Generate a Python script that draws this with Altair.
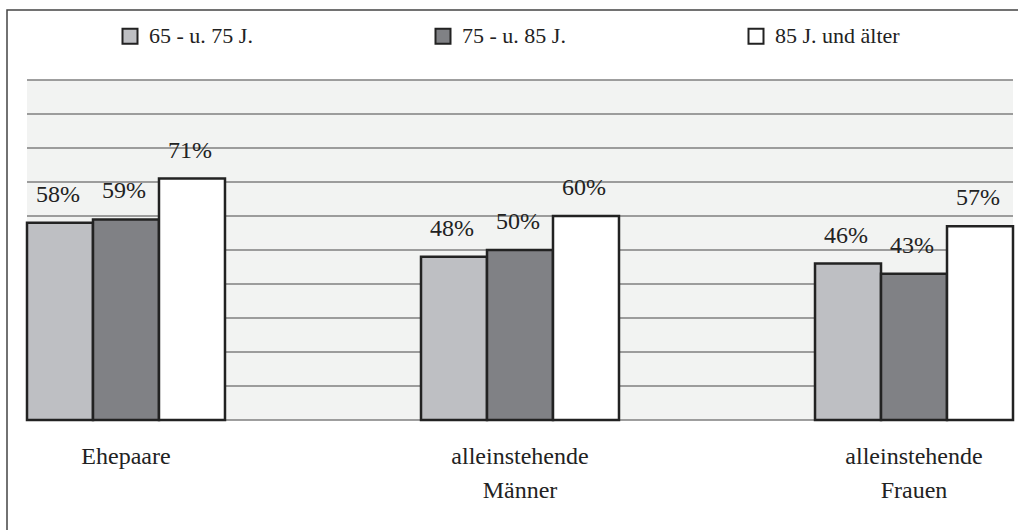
import altair as alt
import pandas as pd

# Haushaltsformen und Altersgruppen
categories = ["Ehepaare", "alleinstehende Männer", "alleinstehende Frauen"]
age_groups = ["65 - u. 75 J.", "75 - u. 85 J.", "85 J. und älter"]
share_65_75 = [58, 48, 46]
share_75_85 = [59, 50, 43]
share_85_plus = [71, 60, 57]
grid_values = [0, 10, 20, 30, 40, 50, 60, 70, 80, 90, 100]

series = [share_65_75, share_75_85, share_85_plus]
rows = []
for group, values in zip(age_groups, series):
    for cat, val in zip(categories, values):
        rows.append({"Kategorie": cat, "Alter": group, "Anteil": val,
                     "Etikett": f"{val}%"})
df = pd.DataFrame(rows)
grid_df = pd.DataFrame({"Anteil": grid_values})

FONT = "Liberation Serif"
TEXT = "#222222"

y_scale = alt.Scale(domain=[0, 100], nice=False, zero=True)

x_enc = alt.X(
    "Kategorie:N",
    sort=categories,
    scale=alt.Scale(paddingInner=0.4975, paddingOuter=0),
    axis=alt.Axis(
        title=None,
        labelAngle=0,
        ticks=False,
        domain=False,
        grid=False,
        labelFont=FONT,
        labelFontSize=24,
        labelColor=TEXT,
        labelPadding=24,
        labelLineHeight=34,
        labelExpr="split(datum.label, ' ')",
    ),
)
xoff_enc = alt.XOffset(
    "Alter:N", sort=age_groups, scale=alt.Scale(paddingInner=0, paddingOuter=0)
)
y_enc = alt.Y("Anteil:Q", scale=y_scale, axis=None)

# horizontale Hilfslinien alle 10 %
grid = alt.Chart(grid_df).mark_rule(color="#7f7f7f", strokeWidth=1.4).encode(
    y=alt.Y("Anteil:Q", scale=y_scale, axis=None)
)

base = alt.Chart(df)

bars = base.mark_bar(stroke=TEXT, strokeWidth=2.5).encode(
    x=x_enc,
    xOffset=xoff_enc,
    y=y_enc,
    color=alt.Color(
        "Alter:N",
        sort=age_groups,
        scale=alt.Scale(domain=age_groups, range=["#bebfc3", "#808185", "#ffffff"]),
        legend=alt.Legend(
            title=None,
            orient="none",
            direction="horizontal",
            columns=3,
            gridAlign="all",
            legendX=92,
            legendY=-55,
            columnPadding=157,
            symbolType="square",
            symbolSize=225,
            symbolStrokeColor=TEXT,
            symbolStrokeWidth=2,
            symbolOffset=0,
            labelOffset=8,
            labelFont=FONT,
            labelFontSize=22,
            labelColor=TEXT,
            labelLimit=400,
            padding=0,
        ),
    ),
)

labels = base.mark_text(
    font=FONT, fontSize=24, color=TEXT, baseline="alphabetic", align="center", dy=-21, dx=-2
).encode(
    x=x_enc,
    xOffset=xoff_enc,
    y=y_enc,
    text=alt.Text("Etikett:N"),
)

# Rahmen um die gesamte Grafik
frame = base.mark_rect(fill="transparent", stroke="#444444", strokeWidth=1.5).encode(
    x=alt.value(-20), x2=alt.value(1020), y=alt.value(-70), y2=alt.value(500)
).transform_filter("datum.Kategorie == 'Ehepaare' && datum.Alter == '65 - u. 75 J.'")

chart = (
    alt.layer(frame, grid, bars, labels)
    .properties(
        width=986,
        height=340,
        autosize=alt.AutoSizeParams(type="none"),
        padding={"left": 27, "top": 80, "right": 5, "bottom": 110},
        background="white",
    )
    .configure_view(fill="#f2f3f2", strokeWidth=0)
    .configure_text(font=FONT)
)

chart.save("out.html", embed_options={"renderer": "svg", "actions": False})
